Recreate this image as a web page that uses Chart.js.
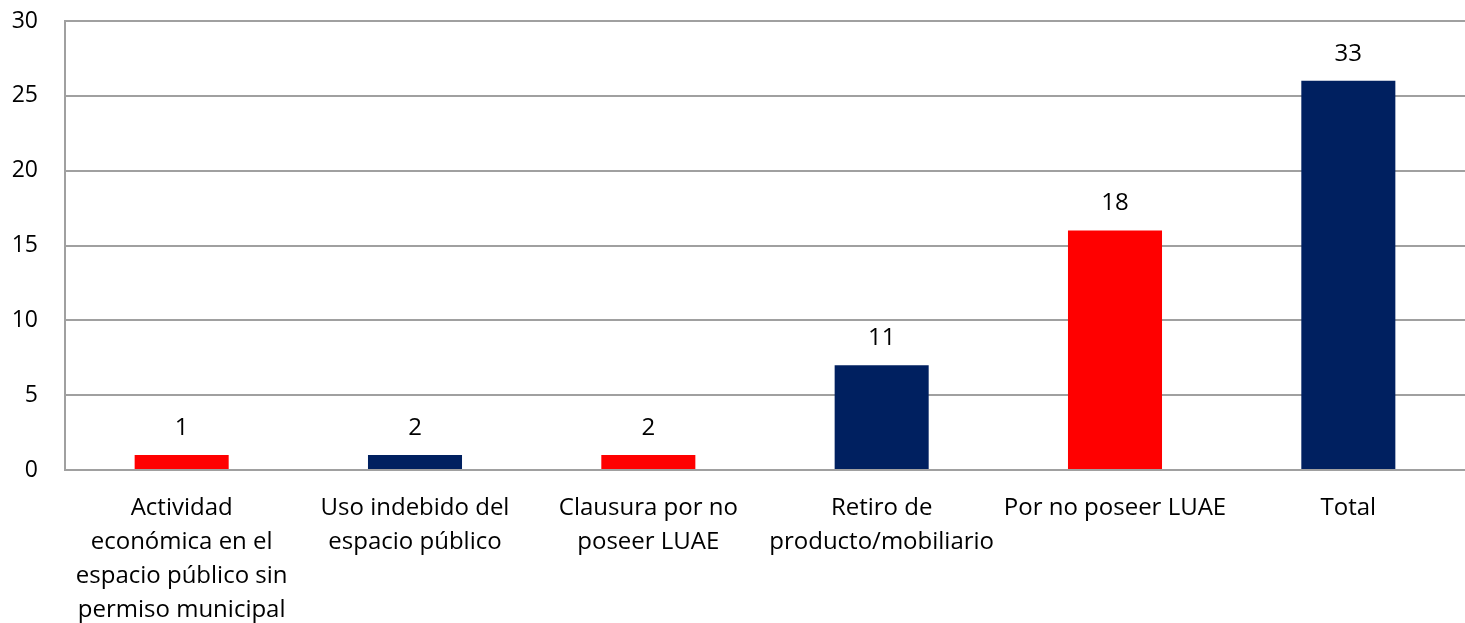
<!DOCTYPE html>
<html>
<head>
<meta charset="utf-8">
<script src="https://cdn.jsdelivr.net/npm/chart.js@4/dist/chart.umd.min.js"></script>
<style>
html,body{margin:0;padding:0;background:#fff;}
#wrap{width:1465px;height:623px;position:relative;}
</style>
</head>
<body>
<div id="wrap"><canvas id="c"></canvas></div>
<script>
const categories = [
  ["Actividad","económica en el","espacio público sin","permiso municipal"],
  ["Uso indebido del","espacio público"],
  ["Clausura por no","poseer LUAE"],
  ["Retiro de","producto/mobiliario"],
  ["Por no poseer LUAE"],
  ["Total"]
];
const barValues = [1, 1, 1, 7, 16, 26];
const labelValues = [1, 2, 2, 11, 18, 33];
const barColors = ["#FF0000", "#002060", "#FF0000", "#002060", "#FF0000", "#002060"];
const yTicks = [0, 5, 10, 15, 20, 25, 30];

const FONT = "'Open Sans', sans-serif";

const valueLabels = {
  id: 'valueLabels',
  afterDatasetsDraw(chart) {
    const ctx = chart.ctx;
    const meta = chart.getDatasetMeta(0);
    ctx.save();
    ctx.font = "24px " + FONT;
    ctx.fillStyle = "#000";
    ctx.textAlign = "center";
    ctx.textBaseline = "middle";
    meta.data.forEach((bar, i) => {
      ctx.fillText(String(labelValues[i]), bar.x, bar.y - 27);
    });
    ctx.restore();
  }
};

new Chart(document.getElementById('c'), {
  type: 'bar',
  data: {
    labels: categories,
    datasets: [{
      data: barValues,
      backgroundColor: barColors,
      borderWidth: 0,
      barPercentage: 0.403,
      categoryPercentage: 1
    }]
  },
  options: {
    responsive: true,
    maintainAspectRatio: false,
    animation: false,
    devicePixelRatio: 1,
    layout: { padding: { top: 21, right: 0, left: 0, bottom: 0 } },
    plugins: { legend: { display: false }, tooltip: { enabled: false } },
    scales: {
      x: {
        grid: { display: false },
        border: { display: false },
        ticks: {
          color: "#000",
          font: { family: FONT, size: 24, lineHeight: 1.417 },
          maxRotation: 0, minRotation: 0, autoSkip: false,
          padding: 13
        },
        afterFit(s) { s.height = 153; s.paddingLeft = 0; s.paddingRight = 0; }
      },
      y: {
        min: 0, max: 30,
        afterBuildTicks(s) { s.ticks = yTicks.map(v => ({ value: v })); },
        grid: { color: "#a0a0a0", lineWidth: 2, drawTicks: false },
        border: { display: true, color: "#a0a0a0", width: 2 },
        ticks: {
          color: "#000",
          font: { family: FONT, size: 23 },
          padding: 27
        },
        afterFit(s) { s.width = 65; s.paddingTop = 0; s.paddingBottom = 0; }
      }
    }
  },
  plugins: [valueLabels]
});
</script>
</body>
</html>
